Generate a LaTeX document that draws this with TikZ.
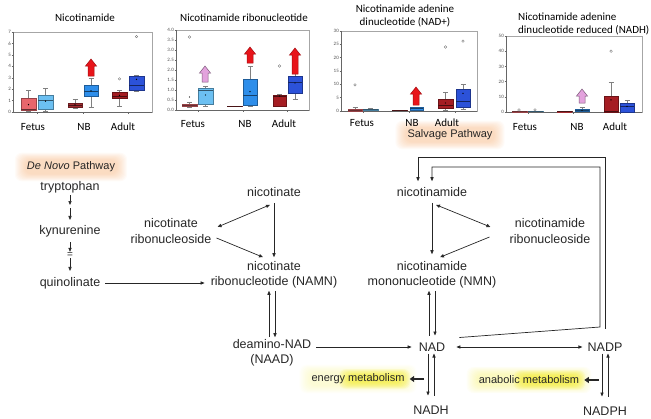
\documentclass[tikz,border=0pt]{standalone}
\usepackage{fontspec}
\setmainfont{Liberation Sans}
\newfontfamily\chartfont{Carlito}
\usetikzlibrary{arrows.meta,backgrounds}

\definecolor{fetr}{HTML}{E8666C}
\definecolor{fetb}{HTML}{6CC0F2}
\definecolor{nbr}{HTML}{A32C31}
\definecolor{nbb}{HTML}{2E8EEA}
\definecolor{adr}{HTML}{A51D23}
\definecolor{adb}{HTML}{2C52D9}
\definecolor{upred}{HTML}{E8141A}
\definecolor{uppink}{HTML}{E3A2DD}
\definecolor{peach}{HTML}{F5A35F}
\definecolor{hlyel}{HTML}{F2EA2A}

% one box with whiskers: x1, x2, low, q1, median, q3, high, colour
\newcommand{\bxp}[8]{%
  \pgfmathsetmacro{\bxc}{(#1+#2)/2}%
  \draw[wsk] (\bxc,#3) -- (\bxc,#7);
  \draw[wsk] (\bxc-2.5,#3) -- (\bxc+2.5,#3) (\bxc-2.5,#7) -- (\bxc+2.5,#7);
  \filldraw[fill=#8, draw=#8!65!black, line width=0.45pt] (#1,#4) rectangle (#2,#6);
  \draw[#8!45!black, line width=0.5pt] (#1,#5) -- (#2,#5);
}
\newcommand{\meanpt}[2]{\fill[black] (#1,#2) circle (0.7pt);}
\newcommand{\outpt}[2]{\draw[black!55, line width=0.35pt] (#1,#2) circle (1.3pt);}
% block arrow pointing up: x, bottom, tip, fill, edge
\newcommand{\blockup}[5]{%
  \filldraw[fill=#4, draw=#5, line width=0.5pt] ({#1-3},#2) -- ({#1-3},{#3+7}) -- ({#1-5.5},{#3+7}) -- (#1,#3)
    -- ({#1+5.5},{#3+7}) -- ({#1+3},{#3+7}) -- ({#1+3},#2) -- cycle;
}
% soft highlight behind text: [opacity], colour, lower left, upper right
\newcommand{\glow}[4][0.06]{%
  \begin{scope}[on background layer]
    \foreach \g in {0,1,...,10}
      \fill[#2, fill opacity=#1, rounded corners=7pt] ([shift={(-\g pt,-0.7*\g pt)}]#3) rectangle ([shift={(\g pt,0.7*\g pt)}]#4);
  \end{scope}}

\begin{document}
\begin{tikzpicture}[x=1pt, y=-1pt,
  lbl/.style={font=\fontsize{12.5}{15.5}\selectfont, align=center, inner sep=2pt, text=black!85},
  small/.style={font=\fontsize{11}{13}\selectfont, inner sep=2pt, text=black!85},
  ctitle/.style={font=\chartfont\fontsize{11}{12.5}\selectfont, align=center, inner sep=0pt},
  cat/.style={font=\chartfont\fontsize{11}{12}\selectfont, inner sep=0pt},
  tick/.style={font=\chartfont\fontsize{5}{5}\selectfont, inner sep=0.5pt, anchor=east, text=black!70},
  frm/.style={draw=black!35, line width=0.4pt},
  axs/.style={draw=black!60, line width=0.4pt},
  wsk/.style={draw=black!50, line width=0.4pt},
  arr/.style={-{Triangle[length=4pt, width=3.2pt]}, line width=0.7pt, draw=black!85},
  dbl/.style={{Triangle[length=4pt, width=3.2pt]}-{Triangle[length=4pt, width=3.2pt]}, line width=0.7pt, draw=black!85},
  fat/.style={-{Triangle[length=4.5pt, width=6pt]}, line width=1.8pt, draw=black!85}
]
\useasboundingbox (0,0) rectangle (651,418);

% ---------- chart 1: nicotinamide ----------
\begin{scope}[shift={(0,112)}, y=11.43pt]
  \draw[frm] (13,0) rectangle (152,7);
  \draw[axs] (13,7) -- (13,0) -- (152,0);
  \foreach \v [count=\i] in {0,...,7} {
    \draw[axs] (11.5,\v) -- (13,\v);
    \node[tick] (ya\i) at (11.5,\v) {\v};
  }
  \foreach \t in {37,83,128} \draw[axs] (\t,0) -- (\t,-0.15);
  \bxp{21}{36}{0.1}{0.15}{0.2}{1.2}{1.9}{fetr}
  \bxp{38}{53}{0.05}{0.25}{1.0}{1.5}{2.1}{fetb}
  \bxp{68}{82}{0.3}{0.45}{0.6}{0.8}{1.1}{nbr}
  \bxp{84}{98}{0.45}{1.35}{1.85}{2.3}{3.0}{nbb}
  \bxp{112}{127}{0.55}{1.2}{1.4}{1.7}{1.9}{adr}
  \bxp{129}{144}{1.8}{1.9}{2.3}{3.1}{3.2}{adb}
  \meanpt{28.5}{0.65} \meanpt{45.5}{0.95} \meanpt{75}{0.62}
  \meanpt{91}{1.85} \meanpt{119.5}{1.45} \meanpt{136.5}{2.85}
  \outpt{119.5}{2.9} \outpt{136.5}{6.6}
\end{scope}
\blockup{91}{76}{59}{upred}{upred!70!black}
\node[ctitle] (t1) at (85,18) {Nicotinamide};
\foreach \x/\t [count=\i] in {33/Fetus, 84/NB, 123/Adult} \node[cat] (ca\i) at (\x,127) {\t};

% ---------- chart 2: nicotinamide ribonucleotide ----------
\begin{scope}[shift={(0,110)}, y=20pt]
  \draw[frm] (176,0) rectangle (309,4);
  \draw[axs] (176,4) -- (176,0) -- (309,0);
  \foreach \v/\l [count=\i] in {0/0.0, 0.5/0.5, 1/1.0, 1.5/1.5, 2/2.0, 2.5/2.5, 3/3.0, 3.5/3.5, 4/4.0} {
    \draw[axs] (174.5,\v) -- (176,\v);
    \node[tick] (yb\i) at (174.5,\v) {\l};
  }
  \foreach \t in {198,243,287} \draw[axs] (\t,0) -- (\t,-0.09);
  \bxp{182}{197}{0.15}{0.17}{0.25}{0.3}{0.4}{fetr}
  \bxp{198}{213}{0.2}{0.28}{1.0}{1.1}{1.2}{fetb}
  \bxp{227}{242}{0.18}{0.18}{0.18}{0.2}{0.2}{nbr}
  \bxp{243}{257}{0.2}{0.22}{0.72}{1.55}{2.2}{nbb}
  \bxp{273}{286}{0.2}{0.2}{0.7}{0.75}{0.78}{adr}
  \bxp{288}{302}{0.52}{0.82}{1.4}{1.7}{2.2}{adb}
  \meanpt{189.5}{0.65} \meanpt{205.5}{0.75} \meanpt{250}{0.92}
  \meanpt{279.5}{0.7} \meanpt{295}{1.35}
  \outpt{189.5}{3.65} \outpt{279.5}{2.2}
\end{scope}
\blockup{205}{82}{66}{uppink}{uppink!55!black}
\blockup{250}{63}{47}{upred}{upred!70!black}
\blockup{295}{74}{48}{upred}{upred!70!black}
\node[ctitle] (t2) at (244,18) {Nicotinamide ribonucleotide};
\foreach \x/\t [count=\i] in {193/Fetus, 245/NB, 284/Adult} \node[cat] (cb\i) at (\x,124) {\t};

% ---------- chart 3: NAD+ ----------
\begin{scope}[shift={(0,111)}, y=2.667pt]
  \draw[frm] (341,0) rectangle (477,30);
  \draw[axs] (341,30) -- (341,0) -- (477,0);
  \foreach \v [count=\i] in {0,5,...,30} {
    \draw[axs] (339.5,\v) -- (341,\v);
    \node[tick] (yc\i) at (339.5,\v) {\v};
  }
  \foreach \t in {363,409,455} \draw[axs] (\t,0) -- (\t,-0.6);
  \bxp{348}{362}{0}{0.1}{0.3}{0.7}{1.5}{fetr}
  \bxp{363}{378}{0.2}{0.3}{0.5}{0.8}{0.9}{fetb}
  \bxp{392}{407}{0.2}{0.2}{0.2}{0.3}{0.3}{nbr}
  \bxp{410}{423}{0.2}{0.3}{0.9}{1.5}{1.6}{nbb}
  \bxp{438}{453}{0.3}{1.0}{2.0}{4.5}{7.0}{adr}
  \bxp{456}{470}{0.5}{1.5}{3.8}{8.0}{10}{adb}
  \meanpt{445.5}{3} \meanpt{463}{6.6}
  \outpt{355}{9.8} \outpt{445.5}{24} \outpt{463}{26.2}
\end{scope}
\blockup{416}{105}{87}{upred}{upred!70!black}
\node[ctitle] (t3) at (405,16) {Nicotinamide adenine\\dinucleotide (NAD+)};
\foreach \x/\t [count=\i] in {362/Fetus, 412/NB, 447/Adult} \node[cat] (cc\i) at (\x,123) {\t};

% ---------- chart 4: NADH ----------
\begin{scope}[shift={(0,112)}, y=1.52pt]
  \draw[frm] (506,0) rectangle (642,50);
  \draw[axs] (506,50) -- (506,0) -- (642,0);
  \foreach \v [count=\i] in {0,10,...,50} {
    \draw[axs] (504.5,\v) -- (506,\v);
    \node[tick] (yd\i) at (504.5,\v) {\v};
  }
  \foreach \t in {528,573,620} \draw[axs] (\t,0) -- (\t,-1);
  \bxp{512}{527}{0}{0}{0.2}{0.4}{0.5}{fetr}
  \bxp{528}{543}{0.2}{0.2}{0.4}{0.6}{0.7}{fetb}
  \bxp{557}{572}{0.2}{0.2}{0.2}{0.3}{0.3}{nbr}
  \bxp{575}{589}{0.3}{0.4}{1.0}{1.6}{3.0}{nbb}
  \bxp{604}{618}{0}{0}{0.5}{10.7}{19.7}{adr}
  \bxp{620}{634}{0}{0}{3.7}{6.0}{8.0}{adb}
  \meanpt{611}{8} \meanpt{627}{3.7} \meanpt{582}{1}
  \outpt{519}{1.3} \outpt{535}{1.4} \outpt{611}{40}
\end{scope}
\blockup{582}{103}{89}{uppink}{uppink!55!black}
\node[ctitle, align=left, anchor=west] (t4) at (518,24) {Nicotinamide adenine\\dinucleotide reduced (NADH)};
\foreach \x/\t [count=\i] in {525/Fetus, 577/NB, 615/Adult} \node[cat] (cd\i) at (\x,127) {\t};

% ---------- pathway ----------
\node[small] (denovo) at (71,167) {\textit{De Novo} Pathway};
\node[small] (salv) at (450,135) {Salvage Pathway};
\node[lbl] (tryp) at (70,187) {tryptophan};
\coordinate (tk) at (70,206.5);
\node[lbl] (kyn) at (70,231) {kynurenine};
\node[font=\fontsize{10}{10}\selectfont, inner sep=0.5pt, text=black!85] (brk) at (70,255) {=};
\node[lbl] (quin) at (70,283) {quinolinate};
\node[lbl] (ntol) at (171,231) {nicotinate\\ribonucleoside};
\node[lbl] (ntate) at (274,192) {nicotinate};
\node[lbl] (namn) at (274,275) {nicotinate\\ribonucleotide (NAMN)};
\node[lbl] (naad) at (272,353) {deamino-NAD\\(NAAD)};
\node[lbl] (nam) at (432,192) {nicotinamide};
\node[lbl] (nmn) at (432,275) {nicotinamide\\mononucleotide (NMN)};
\node[lbl] (nmr) at (550,231) {nicotinamide\\ribonucleoside};
\node[lbl] (nad) at (432,347) {NAD};
\node[lbl] (nadp) at (605,347) {NADP};
\node[lbl] (nadh) at (431,410) {NADH};
\node[lbl] (nadph) at (605,411) {NADPH};
\node[small] (energy) at (358,379) {energy metabolism};
\node[small] (anab) at (529,380) {anabolic metabolism};

% highlights
\glow[0.045]{peach}{denovo.south west}{denovo.north east}
\glow[0.045]{peach}{salv.south west}{salv.north east}
\coordinate (esw) at ([shift={(-58pt,-3pt)}]energy.east);
\coordinate (ene) at ([shift={(-6pt,3pt)}]energy.east);
\glow[0.1]{hlyel}{esw}{ene}
\glow[0.02]{hlyel}{energy.south west}{energy.north east}
\coordinate (asw) at ([shift={(-58pt,-3pt)}]anab.east);
\coordinate (ane) at ([shift={(-6pt,3pt)}]anab.east);
\glow[0.1]{hlyel}{asw}{ane}
\glow[0.03]{hlyel}{anab.south west}{anab.north east}

% de novo branch
\draw[arr, shorten >=1.5pt] (tryp.south) -- (tk);
\draw[arr, shorten <=1.5pt] (tk) -- ([yshift=3pt]kyn.north);
\draw[arr, shorten <=3pt] (kyn.south) -- (brk.north);
\draw[arr] (brk.south) -- ([yshift=4pt]quin.north);
\draw[arr] ([xshift=3pt]quin.east) -- ([xshift=-4pt]quin.east -| namn.west);
\draw[dbl] ([shift={(4pt,4pt)}]ntol.east) -- ([shift={(-4pt,-6pt)}]ntate.south);
\draw[arr] ([shift={(3pt,-7pt)}]ntol.east) -- ([shift={(-11pt,2pt)}]namn.north);
\draw[arr] ([yshift=-4pt]ntate.south) -- ([yshift=2pt]namn.north);
\draw[arr] ([xshift=-3pt]naad.north) -- ([xshift=-3pt]naad.north |- namn.south);
\draw[arr] ([xshift=3pt]naad.north |- namn.south) -- ([xshift=3pt]naad.north);
\draw[arr, shorten <=3pt, shorten >=5pt] (naad.east |- nad.west) -- (nad.west);

% salvage branch
\draw[arr] ([yshift=-4pt]nam.south) -- ([yshift=5pt]nmn.north);
\draw[dbl] ([shift={(4pt,-6pt)}]nam.south) -- ([shift={(-17pt,4pt)}]nmr.west);
\draw[arr] ([shift={(-18pt,-6pt)}]nmr.west) -- ([shift={(8pt,2pt)}]nmn.north);
\draw[arr] ([shift={(-3pt,5pt)}]nad.north) -- ([xshift=-3pt]nad.north |- nmn.south);
\draw[arr] ([xshift=3pt]nad.north |- nmn.south) -- ([shift={(3pt,5pt)}]nad.north);
\draw[dbl, shorten <=9pt, shorten >=3pt] (nad.east) -- (nadp.west);
\draw[arr, shorten >=8pt] ([xshift=-3pt]nadh.north |- nad.south) -- ([xshift=-3pt]nadh.north);
\draw[arr, shorten <=8pt] ([xshift=3pt]nadh.north) -- ([xshift=3pt]nadh.north |- nad.south);
\draw[arr, shorten >=8pt] ([xshift=-3pt]nadph.north |- nadp.south) -- ([xshift=-3pt]nadph.north);
\draw[arr, shorten <=8pt] ([xshift=3pt]nadph.north) -- ([xshift=3pt]nadph.north |- nadp.south);

% metabolism outlets
\coordinate (ef) at (424,379);
\draw[fat] (ef) -- ([xshift=3pt]energy.east);
\coordinate (af) at (599,380);
\draw[fat] (af) -- ([xshift=3pt]anab.east);

% loops back to nicotinamide
\coordinate (fb1) at (418,157);
\draw[arr] ([yshift=12pt]nadp.north) |- (fb1) -- ([shift={(-14pt,4pt)}]nam.north);
\coordinate (fbc) at (600,327);
\coordinate (fb2) at (432,167);
\draw[arr] ([shift={(12pt,3pt)}]nad.north east) -- (fbc) |- (fb2) -- ([yshift=4pt]nam.north);
\end{tikzpicture}
\end{document}
